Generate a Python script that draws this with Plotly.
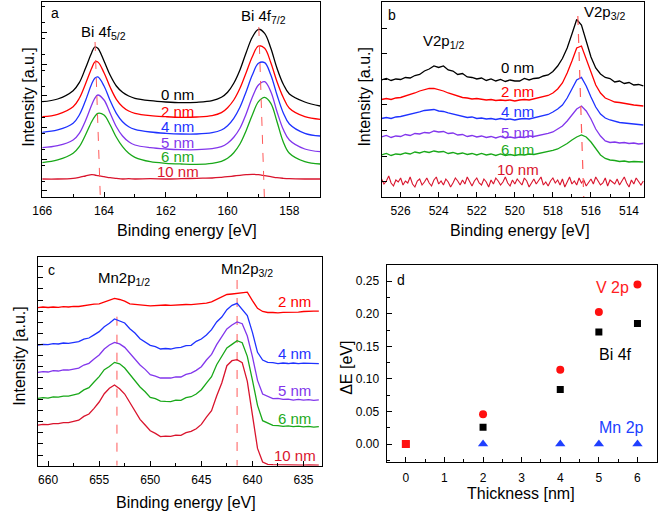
import plotly.graph_objects as go

# ---------------- panel a : Bi 4f ----------------
energy_a = [166.0, 165.5, 165.0, 164.8, 164.6, 164.4, 164.3, 164.2, 164.0, 163.8, 163.6,
            163.4, 163.2, 163.0, 162.5, 162.0, 161.5, 161.0, 160.5, 160.2, 160.0, 159.8,
            159.6, 159.4, 159.2, 159.0, 158.8, 158.6, 158.4, 158.2, 158.0, 157.5, 157.0]
bi_0nm = [95.3, 98, 106.3, 114.3, 128.7, 144.3, 150, 148.7, 136, 121.7, 111, 104.7, 101, 98.7,
          96.3, 95, 94.3, 94.7, 96.3, 99.7, 104.7, 113.7, 127, 144.3, 159.7, 167.7, 163.7,
          148.7, 128.7, 113, 103, 95, 91]
bi_2nm = [80.3, 82.7, 90.3, 98.7, 113, 128.7, 135, 135, 124.3, 109.7, 97.7, 90.3, 86, 83.7,
          81.3, 80.3, 79.7, 80, 81.3, 84.3, 89.3, 97, 108.7, 124.3, 140.3, 151, 148.7, 134.3,
          115.3, 99.7, 88.7, 80.3, 77.7]
bi_4nm = [64.7, 67, 73.7, 82, 96.3, 113, 118.7, 120, 111, 96.3, 83.7, 75.3, 70.3, 67.7, 65,
          63.7, 63, 63, 64.3, 67, 71.3, 78.7, 89.7, 105.3, 122, 133.7, 134.3, 122, 102, 84.3,
          73, 63.7, 61]
bi_5nm = [49.3, 51.3, 57, 63.7, 76.3, 92, 98.7, 102, 97, 83.7, 70.3, 61, 55.3, 52, 49.3, 48,
          47.3, 47.3, 48.3, 50.3, 53.7, 59.7, 68.7, 83, 99.7, 112, 115.3, 105.3, 85.3, 67.7,
          57, 48, 45.3]
bi_6nm = [34.3, 37, 43.7, 50.3, 62, 75.3, 80.3, 83.7, 82, 72, 59.7, 50.3, 43.7, 39.7, 35.3,
          33.7, 33, 32.7, 33.7, 35.7, 38.7, 44.3, 53, 66.3, 82, 95.3, 99.7, 93.7, 75.3, 55.3,
          43.7, 35.3, 33]
bi_10nm = [18, 18, 18.7, 19.7, 21, 22.3, 22, 21.3, 20.3, 19.3, 18.7, 18, 18.3, 18, 18.3, 18,
           18.3, 18.7, 19, 19.7, 20.3, 21, 21.7, 22.3, 22.7, 22.3, 21.3, 20.3, 19.3, 18.7,
           18.3, 18, 18]
bi_peak_top_e = [164.29, 158.99]
bi_peak_top_y = [155, 170]
bi_peak_bot_e = [164.12, 158.81]

# ---------------- panel b : V 2p ----------------
energy_b = [527.00, 526.75, 526.50, 526.25, 526.00, 525.75, 525.50, 525.25, 525.00, 524.75,
            524.50, 524.25, 524.00, 523.75, 523.50, 523.25, 523.00, 522.75, 522.50, 522.25,
            522.00, 521.75, 521.50, 521.25, 521.00, 520.75, 520.50, 520.25, 520.00, 519.75,
            519.50, 519.25, 519.00, 518.75, 518.50, 518.25, 518.00, 517.75, 517.50, 517.25,
            517.00, 516.75, 516.50, 516.25, 516.00, 515.75, 515.50, 515.25, 515.00, 514.75,
            514.50, 514.25, 514.00, 513.75, 513.50, 513.25]
v_0nm = [117, 118.5, 116.5, 118, 117.5, 119.5, 119, 121.5, 122.5, 126, 128, 131, 129.5, 131,
         127, 126, 122.5, 123.5, 120, 119.5, 118, 119, 116.5, 118, 116, 117.5, 115.5, 117,
         116, 116, 118.5, 117, 118.5, 119, 121, 122, 125.5, 131, 138.5, 149, 163, 177.5, 172,
         155, 140, 129, 123, 119.5, 118.5, 115, 116, 113.5, 114.5, 112, 112.5, 111]
v_2nm = [97.5, 98.5, 97.5, 99, 99.5, 101, 102, 104, 106, 107.5, 108.5, 108.5, 107.5, 106, 104,
         102.5, 101, 99.5, 99, 98, 98.5, 97.5, 97, 97.5, 96.5, 97, 96.5, 97, 96, 97, 97.5, 97,
         98, 99, 100, 101.5, 104, 108, 114, 124, 136, 149, 151, 138, 124, 112, 104, 99, 97,
         95, 94.5, 93.5, 93, 92, 91.5, 91]
v_4nm = [78.5, 79.5, 78.5, 80, 80.5, 81.5, 82.5, 84, 85, 86.5, 87, 87.5, 86, 85.5, 84, 83,
         81.5, 81, 79.5, 80, 78.5, 79, 78, 78.5, 77.5, 78.5, 77.5, 78, 77, 78, 78.5, 78, 79,
         80, 81, 82.5, 85, 88, 92, 99, 108, 117, 119.5, 111, 100, 90, 83, 79, 77, 75.5, 74.5,
         74, 73.5, 72.5, 72.5, 72]
v_5nm = [60, 61.5, 59.5, 61, 60.5, 62.5, 61.5, 63.5, 63, 64.5, 64, 66, 65, 65.5, 63.5, 64, 62,
         62.5, 60.5, 61.5, 60, 61, 59.5, 60.5, 59, 60.5, 59, 60, 59, 60, 59.5, 61, 60.5, 61.5,
         62, 63.5, 65, 68, 71, 76, 82, 88, 91, 86, 78, 68, 61, 56, 54.5, 55, 54, 54.5, 53.5,
         54, 53, 53.5]
v_6nm = [42, 43.5, 41.5, 43, 42.5, 44, 43, 45, 44, 45.5, 44.5, 46, 45, 45.5, 43.5, 44.5, 43,
         44, 42.5, 43.5, 42, 43.5, 42, 43, 41.5, 43, 41.5, 42.5, 41.5, 42.5, 42, 43, 42.5,
         43.5, 44, 45, 46.5, 48, 50.5, 53.5, 57, 60, 62, 60, 55, 48, 42, 38.5, 37, 36.5, 35.5,
         36, 35, 35.5, 35.5, 35]
# the 10 nm trace is read on a finer energy grid (it is pure noise)
energy_b_fine = [527.0, 526.875, 526.75, 526.625, 526.5, 526.375, 526.25, 526.125,
                 526.0, 525.875, 525.75, 525.625, 525.5, 525.375, 525.25, 525.125,
                 525.0, 524.875, 524.75, 524.625, 524.5, 524.375, 524.25, 524.125,
                 524.0, 523.875, 523.75, 523.625, 523.5, 523.375, 523.25, 523.125,
                 523.0, 522.875, 522.75, 522.625, 522.5, 522.375, 522.25, 522.125,
                 522.0, 521.875, 521.75, 521.625, 521.5, 521.375, 521.25, 521.125,
                 521.0, 520.875, 520.75, 520.625, 520.5, 520.375, 520.25, 520.125,
                 520.0, 519.875, 519.75, 519.625, 519.5, 519.375, 519.25, 519.125,
                 519.0, 518.875, 518.75, 518.625, 518.5, 518.375, 518.25, 518.125,
                 518.0, 517.875, 517.75, 517.625, 517.5, 517.375, 517.25, 517.125,
                 517.0, 516.875, 516.75, 516.625, 516.5, 516.375, 516.25, 516.125,
                 516.0, 515.875, 515.75, 515.625, 515.5, 515.375, 515.25, 515.125,
                 515.0, 514.875, 514.75, 514.625, 514.5, 514.375, 514.25, 514.125,
                 514.0, 513.875, 513.75, 513.625, 513.5, 513.375, 513.25]
v_10nm = [18, 13, 16, 21, 14, 11, 17, 15, 19, 12, 16, 14, 20, 13, 10, 16, 18, 12, 15, 19,
          14, 11, 17, 20, 13, 16, 12, 18, 15, 10, 14, 19, 16, 12, 17, 13, 20, 15, 11, 16,
          19, 14, 12, 18, 15, 10, 17, 13, 19, 16, 12, 15, 20, 14, 11, 17, 13, 18, 15, 12,
          19, 16, 10, 14, 18, 13, 17, 20, 12, 15, 11, 16, 19, 14, 17, 12, 18, 10, 15, 20,
          13, 16, 12, 19, 14, 17, 11, 15, 18, 13, 20, 16, 12, 14, 19, 11, 17, 15, 13, 18,
          12, 16, 20, 14, 10, 17, 13, 19, 15, 12, 16]
v_peak_e = [516.69, 516.38]
v_peak_y = [181, 0]

# ---------------- panel c : Mn 2p ----------------
energy_c = [661.0, 660.5, 660.0, 659.5, 659.0, 658.5, 658.0, 657.5, 657.0, 656.5, 656.0,
            655.5, 655.0, 654.5, 654.0, 653.5, 653.0, 652.5, 652.0, 651.5, 651.0, 650.5,
            650.0, 649.5, 649.0, 648.5, 648.0, 647.5, 647.0, 646.5, 646.0, 645.5, 645.0,
            644.5, 644.0, 643.5, 643.0, 642.5, 642.0, 641.5, 641.0, 640.5, 640.0, 639.5,
            639.0, 638.5, 638.0, 637.5, 637.0, 636.5, 636.0, 635.5, 635.0, 634.5, 634.0, 633.5]
mn_2nm = [474, 476, 474.5, 476, 475, 477, 476, 478, 477.5, 480.5, 481.5, 484.5, 485.5, 490.5,
          496.5, 502, 498.5, 493.5, 485.5, 483.5, 481, 481, 479.5, 481, 480.5, 482, 481, 482.5,
          482, 483.5, 483, 484.5, 485, 487.5, 491.5, 499.5, 505.5, 513.5, 515, 517.5, 519.5,
          520.5, 495, 472, 462.5, 459.5, 459.5, 458.5, 460, 459.5, 461, 460.5, 462.5, 462,
          463.5, 463.5]
mn_4nm = [362, 364, 363, 366, 365, 368, 367, 370, 372, 379.5, 383, 392.5, 402, 417, 427, 440,
          434, 428, 411, 398, 381, 372, 361, 357, 350, 351.5, 350, 353.5, 355, 360, 361, 373,
          380, 392, 408, 431, 446, 468, 481, 487, 468, 450, 400, 340, 317, 310, 309, 306, 308,
          306.5, 308, 306, 307.5, 306.5, 307.5, 306]
mn_5nm = [280, 282, 281, 285, 284, 287.5, 287, 290.5, 293, 302, 307, 320, 332, 350, 362, 370,
          365.5, 355, 337, 321, 302, 289, 273, 269, 263, 263, 263, 266.5, 266, 274, 278, 286,
          297, 317, 334, 363, 386, 410, 422, 431, 426, 389, 327, 256, 215, 207, 201.5, 202,
          199, 200, 197, 199, 196.5, 198, 196, 197.5]
mn_6nm = [202, 204, 203, 206.5, 206, 209, 209, 213.5, 216.5, 227.5, 234, 251, 267, 288, 297.5,
          310, 305.5, 293, 273, 256, 236, 222, 205, 201, 194, 193, 192.5, 196.5, 196, 204,
          207, 215, 228, 248, 267, 303, 329, 353, 364, 375, 369, 328, 257, 181, 135, 128, 121,
          120.5, 118, 119.5, 117, 119, 116.5, 118, 116, 117.5]
mn_10nm = [122, 124, 123, 126.5, 126, 129, 129, 133.5, 136.5, 148, 155, 172, 191, 216, 232.5,
           242, 231, 215, 190, 166, 139, 122, 105, 97, 87.5, 88.5, 88, 91.5, 91, 99, 103, 111,
           124, 146, 165, 209, 248, 300, 315, 318, 309, 253, 157, 52, 11, 4, 3, 2.5, 2, 2.5, 2,
           2.5, 2, 2.5, 2, 2]
mn_peak_e = [653.26, 641.5]
mn_peak_top = [447, 557]

# ---------------- panel d : shifts ----------------
thickness = [0, 2, 4, 5, 6]
shift_bi4f = [0.0, 0.026, 0.084, 0.172, 0.185]
shift_v2p = [0.0, 0.046, 0.114, 0.203, 0.245]
thickness_mn = [2, 4, 5, 6]
shift_mn2p = [0.0, 0.0, 0.0, 0.0]

thick_labels = ["0 nm", "2 nm", "4 nm", "5 nm", "6 nm", "10 nm"]

BLACK = "#000000"
RED = "#ff0000"
BLUE = "#1e32ff"
PURPLE = "#8236ec"
GREEN = "#19a819"
CRIMSON = "#d9142d"
DASH = "#ff5a5a"
FONT = "Arial, Liberation Sans, sans-serif"

fig = go.Figure()


def line(x, y, color, xa, ya, shape="linear", width=1.3, dash=None):
    fig.add_trace(go.Scatter(x=x, y=y, mode="lines", xaxis=xa, yaxis=ya,
                             line=dict(color=color, width=width, shape=shape, dash=dash),
                             showlegend=False, hoverinfo="skip"))


# panel a
for ys, c in zip([bi_0nm, bi_2nm, bi_4nm, bi_5nm, bi_6nm, bi_10nm],
                 [BLACK, RED, BLUE, PURPLE, GREEN, CRIMSON]):
    line(energy_a, ys, c, "x", "y", shape="spline")
for i in range(2):
    line([bi_peak_top_e[i], bi_peak_bot_e[i]], [bi_peak_top_y[i], 0], DASH, "x", "y",
         width=1, dash="dash")

# panel b
for ys, c in zip([v_0nm, v_2nm, v_4nm, v_5nm, v_6nm],
                 [BLACK, RED, BLUE, PURPLE, GREEN]):
    line(energy_b, ys, c, "x2", "y2")
line(energy_b_fine, v_10nm, CRIMSON, "x2", "y2", width=1.1)
line(v_peak_e, v_peak_y, DASH, "x2", "y2", width=1.2, dash="dash")

# panel c
for i in range(2):
    line([mn_peak_e[i], mn_peak_e[i]], [mn_peak_top[i], 0], DASH, "x3", "y3", width=1,
         dash="dash")
for ys, c in zip([mn_2nm, mn_4nm, mn_5nm, mn_6nm, mn_10nm],
                 [RED, BLUE, PURPLE, GREEN, CRIMSON]):
    line(energy_c, ys, c, "x3", "y3")

# panel d
fig.add_trace(go.Scatter(x=thickness, y=shift_bi4f, mode="markers", xaxis="x4", yaxis="y4",
                         marker=dict(symbol="square", size=7, color=BLACK, opacity=1,
                                     line=dict(width=0)),
                         showlegend=False, hoverinfo="skip"))
fig.add_trace(go.Scatter(x=thickness, y=shift_v2p, mode="markers", xaxis="x4", yaxis="y4",
                         marker=dict(symbol=["square", "circle", "circle", "circle", "circle"],
                                     size=[8, 8, 8, 8, 8], color="#ff1010", opacity=1,
                                     line=dict(width=0)),
                         showlegend=False, hoverinfo="skip"))
fig.add_trace(go.Scatter(x=thickness_mn, y=shift_mn2p, mode="markers", xaxis="x4", yaxis="y4",
                         marker=dict(symbol="triangle-up", size=9, color="#1f3fff", opacity=1,
                                     line=dict(width=0)),
                         showlegend=False, hoverinfo="skip"))

axis_common = dict(showline=True, linecolor="black", linewidth=1, mirror=True,
                   ticks="inside", tickcolor="black", ticklen=5, tickwidth=1,
                   showgrid=False, zeroline=False,
                   tickfont=dict(family=FONT, size=12, color="black"))

fig.update_layout(
    width=661, height=511, autosize=False,
    margin=dict(l=0, r=0, t=0, b=0),
    paper_bgcolor="white", plot_bgcolor="white",
    font=dict(family=FONT, color="black"),
    xaxis=dict(domain=[0.0495, 0.4766], anchor="y", range=[166, 157], tickmode="linear",
               tick0=158, dtick=2, ticklabelstandoff=3,
               minor=dict(dtick=1, ticks="inside", ticklen=3, tickcolor="black"), **axis_common),
    yaxis=dict(domain=[0.6145, 0.9961], anchor="x", range=[0, 195], tickmode="linear",
               tick0=6, dtick=31.7, showticklabels=False,
               minor=dict(dtick=15.85, ticks="inside", ticklen=3, tickcolor="black"),
               **axis_common),
    xaxis2=dict(domain=[0.5708, 0.9743], anchor="y2", range=[527, 513.2], tickmode="linear",
                tick0=514, dtick=2, ticklabelstandoff=3,
                minor=dict(dtick=1, ticks="inside", ticklen=3, tickcolor="black"),
                **axis_common),
    yaxis2=dict(domain=[0.6145, 0.9961], anchor="x2", range=[0, 195], tickmode="linear",
                tick0=15.3, dtick=25.6, showticklabels=False, **axis_common),
    xaxis3=dict(domain=[0.0428, 0.4791], anchor="y3", range=[661, 633.2], tickmode="linear",
                tick0=635, dtick=5, ticklabelstandoff=3,
                minor=dict(dtick=2.5, ticks="inside", ticklen=3, tickcolor="black"),
                **axis_common),
    yaxis3=dict(domain=[0.0886, 0.4971], anchor="x3", range=[0, 626], tickmode="linear",
                tick0=32, dtick=33.2, showticklabels=False, **axis_common),
    xaxis4=dict(domain=[0.5784, 0.9935], anchor="y4", range=[-0.5, 6.5], tickmode="linear",
                tick0=0, dtick=1, ticklabelstandoff=5,
                minor=dict(dtick=0.5, ticks="inside", ticklen=3, tickcolor="black"),
                **axis_common),
    yaxis4=dict(domain=[0.0965, 0.4814], anchor="x4", range=[-0.027, 0.275], tickmode="linear",
                tick0=0, dtick=0.05, tickformat=".2f", ticklabelstandoff=4,
                minor=dict(dtick=0.025, ticks="inside", ticklen=3, tickcolor="black"),
                **axis_common),
)

ann = []


def txt(x, y, s, xref, yref, color="black", size=15, angle=0, xanchor="center"):
    ann.append(dict(x=x, y=y, xref=xref, yref=yref, text=s, showarrow=False,
                    font=dict(family=FONT, size=size, color=color), textangle=angle,
                    xanchor=xanchor, yanchor="middle"))


label_colors = [BLACK, RED, BLUE, PURPLE, "#22aa22", CRIMSON]

# panel a texts
for s, yy, c in zip(thick_labels, [102, 85, 70, 54, 40, 25], label_colors):
    txt(161.62, yy, s, "x", "y", c)
txt(164.01, 164, "Bi 4f<sub>5/2</sub>", "x", "y")
txt(158.83, 180, "Bi 4f<sub>7/2</sub>", "x", "y")
txt(165.6, 184, "a", "x", "y", size=14)

# panel b texts
for s, yy, c in zip(thick_labels, [129, 105, 85, 64, 47, 27], label_colors):
    txt(519.85, yy, s, "x2", "y2", c)
txt(523.77, 155, "V2p<sub>1/2</sub>", "x2", "y2")
txt(515.3, 184, "V2p<sub>3/2</sub>", "x2", "y2")
txt(526.45, 182, "b", "x2", "y2", size=14)

# panel c texts
for s, yy, c in zip(thick_labels[1:], [492, 337, 227, 142, 32], label_colors[1:]):
    txt(635.85, yy, s, "x3", "y3", c)
txt(652.6, 562, "Mn2p<sub>1/2</sub>", "x3", "y3")
txt(640.5, 587, "Mn2p<sub>3/2</sub>", "x3", "y3")
txt(659.7, 587, "c", "x3", "y3", size=14)

# panel d texts
txt(5.35, 0.241, "V 2p", "x4", "y4", "#ff2020", size=16)
txt(5.44, 0.137, "Bi 4f", "x4", "y4", size=16)
txt(5.58, 0.026, "Mn 2p", "x4", "y4", "#2040ff", size=16)
txt(-0.13, 0.252, "d", "x4", "y4", size=14)

# axis titles
txt(0.2723, 0.5499, "Binding energy [eV]", "paper", "paper", size=16)
txt(0.0272, 0.810, "Intensity [a.u.]", "paper", "paper", size=16, angle=-90)
txt(0.7837, 0.5499, "Binding energy [eV]", "paper", "paper", size=16)
txt(0.5446, 0.810, "Intensity [a.u.]", "paper", "paper", size=16, angle=-90)
txt(0.2708, 0.0176, "Binding energy [eV]", "paper", "paper", size=16)
txt(0.0136, 0.3033, "Intensity [a.u.]", "paper", "paper", size=16, angle=-90)
txt(0.7852, 0.0352, "Thickness [nm]", "paper", "paper", size=16)
txt(0.5159, 0.2798, "ΔE [eV]", "paper", "paper", size=16, angle=-90)

fig.update_layout(annotations=ann)
fig.write_html("out.html", config={"displayModeBar": False},
               post_script="document.body.style.margin='0px';"
                           "document.body.style.overflow='hidden';")
